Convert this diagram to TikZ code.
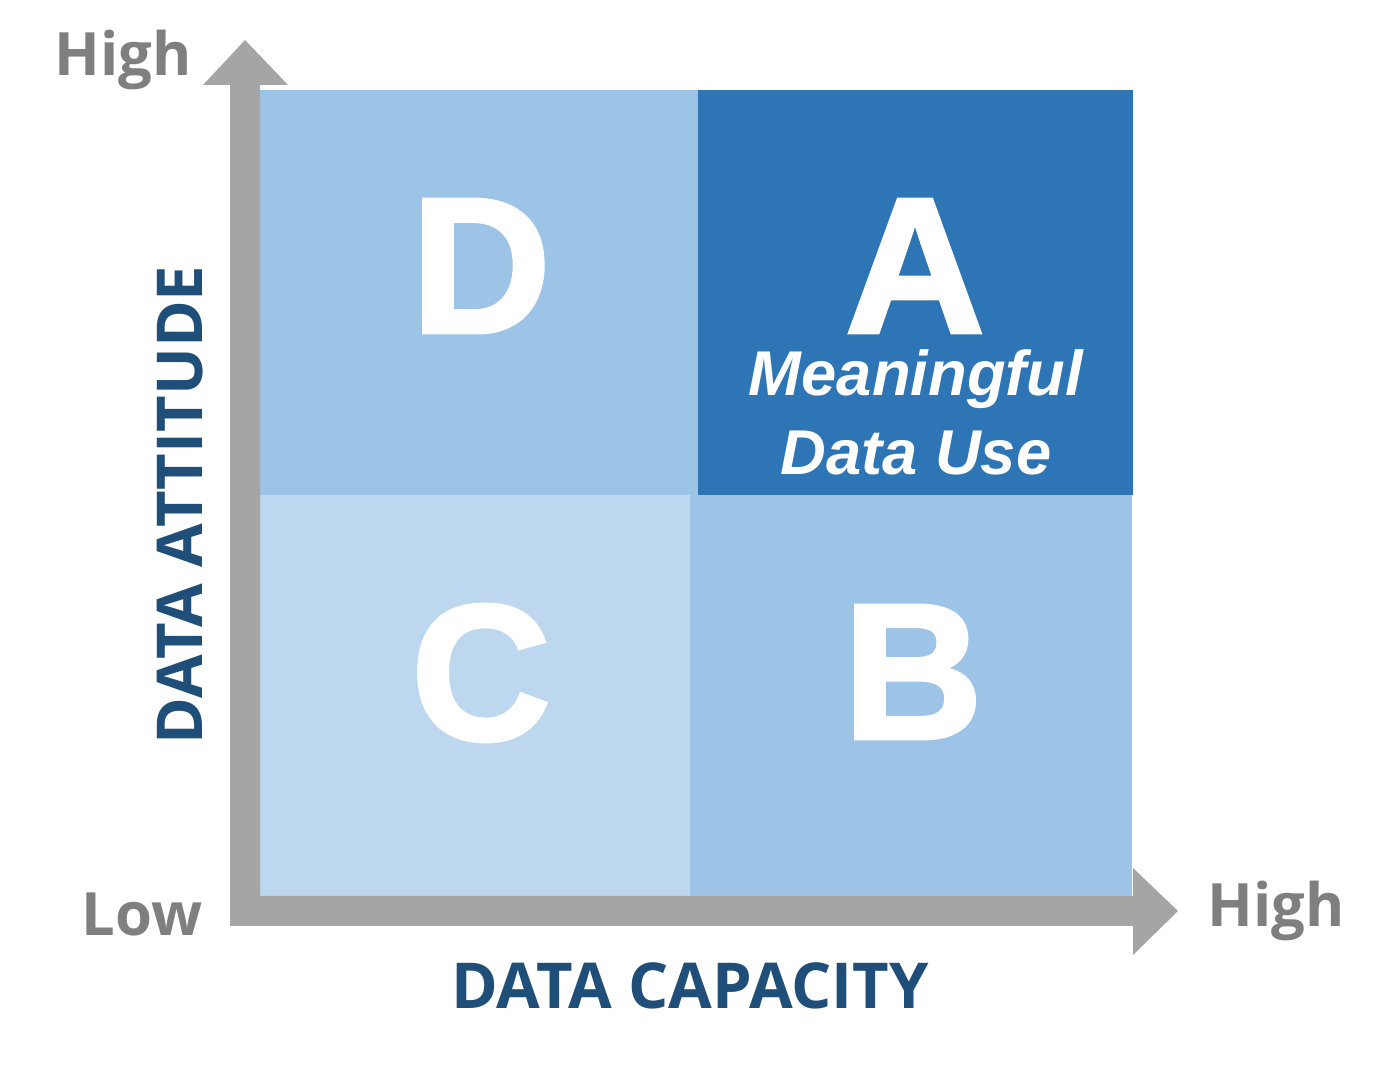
\documentclass[tikz,border=0pt]{standalone}
\usepackage{fontspec}
\setmainfont{Liberation Sans}
\newfontfamily\osans{Open Sans}
\newfontfamily\heavy[FakeBold=2]{Liberation Sans Bold}
\definecolor{qlight}{HTML}{9DC3E6}
\definecolor{qpale}{HTML}{BDD7EE}
\definecolor{qdark}{HTML}{2E75B6}
\definecolor{axgray}{HTML}{A5A5A5}
\definecolor{txgray}{HTML}{7F7F7F}
\definecolor{navy}{HTML}{1F4E79}
\begin{document}
\begin{tikzpicture}[x=0.01cm,y=-0.01cm,
  big/.style={text=white,inner sep=0pt,text depth=0pt,font=\heavy\fontsize{55}{55}\selectfont},
  mt/.style={text=white,inner sep=0pt,font=\fontsize{18}{18}\selectfont\bfseries\itshape},
  lvl/.style={text=txgray,font=\osans\fontsize{17}{17}\selectfont\bfseries},
  axl/.style={text=navy,font=\osans\fontsize{18}{18}\selectfont\bfseries}]
\useasboundingbox (0,0) rectangle (1400,1080);
\fill[qlight] (260,90) rectangle (698,495);
\fill[qdark] (698,90) rectangle (1133,495);
\fill[qpale] (260,495) rectangle (690,896);
\fill[qlight] (690,495) rectangle (1132,896);
\fill[axgray] (230,926) -- (230,85) -- (203,85) -- (245,40) -- (288,85) -- (260,85) -- (260,896) -- (1133,896) -- (1133,868) -- (1178,911) -- (1133,955) -- (1133,926) -- cycle;
\node[big] (d) at (481,266) {D};
\node[big] (a) at (915,266) {A};
\node[big] (c) at (481,672) {C};
\node[big] (b) at (913,672) {B};
\node[mt] (m1) at (916,379) {Meaningful};
\node[mt] (m2) at (916,453) {Data Use};
\node[lvl] (hy) at (123,60) {High};
\node[lvl] (lo) at (142,914) {Low};
\node[lvl] (hx) at (1276,911) {High};
\node[axl] (xc) at (690,986) {DATA CAPACITY};
\node[axl,rotate=90] (ya) at (180,505) {DATA ATTITUDE};
\end{tikzpicture}
\end{document}
